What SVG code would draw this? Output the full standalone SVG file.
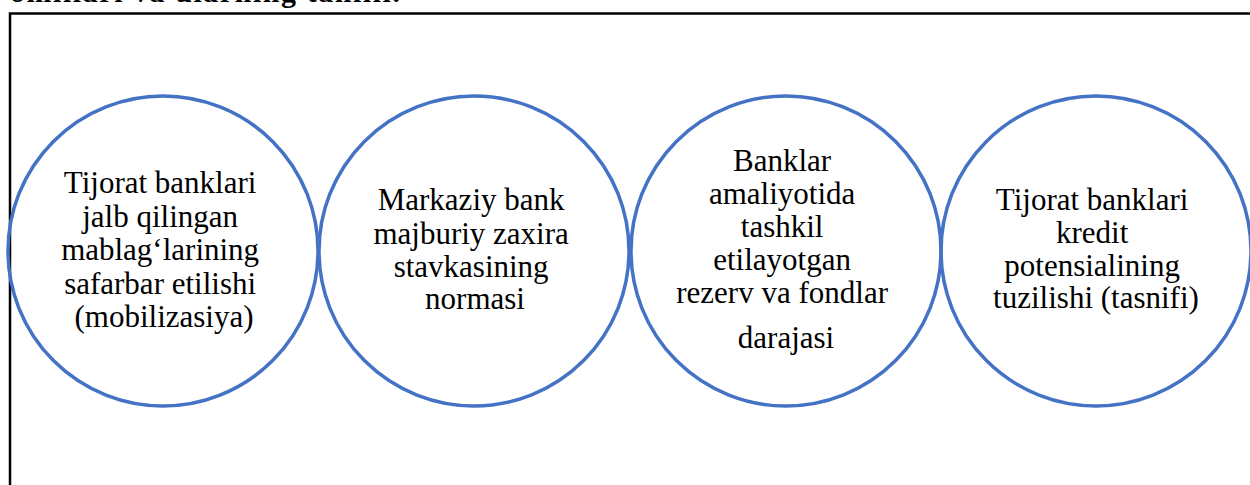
<svg xmlns="http://www.w3.org/2000/svg" width="1250" height="485" viewBox="0 0 1250 485">
  <style>
    .frame { fill: none; stroke: #000000; stroke-width: 2.5; }
    .ring { fill: none; stroke: #4472C4; stroke-width: 3.5; }
    .label { font-family: "Liberation Serif", "Times New Roman", serif; font-size: 31px; fill: #000000; text-anchor: middle; }
    .heading { font-family: "Liberation Serif", "Times New Roman", serif; font-size: 30px; font-weight: bold; fill: #000000; }
  </style>
  <rect width="1250" height="485" fill="#ffffff"/>

  <!-- heading line running off the top edge -->
  <text class="heading" x="10" y="2" textLength="390" lengthAdjust="spacing">omillari va ularning tahlili.</text>

  <!-- outer frame, open past the right and bottom edges -->
  <rect class="frame" x="10" y="13.5" width="1260" height="490"/>

  <g id="connectors"></g>

  <g id="node-mobilization">
    <circle class="ring" cx="163" cy="251" r="155"/>
    <text class="label">
      <tspan x="164" y="193">Tijorat banklari</tspan>
      <tspan x="164" y="227">jalb qilingan</tspan>
      <tspan x="164" y="260">mablag‘larining</tspan>
      <tspan x="164" y="294">safarbar etilishi</tspan>
      <tspan x="164" y="327">(mobilizasiya)</tspan>
    </text>
  </g>

  <g id="node-reserve-rate">
    <circle class="ring" cx="474" cy="251" r="155"/>
    <text class="label">
      <tspan x="475" y="210">Markaziy bank</tspan>
      <tspan x="475" y="244">majburiy zaxira</tspan>
      <tspan x="475" y="277">stavkasining</tspan>
      <tspan x="475" y="309">normasi</tspan>
    </text>
  </g>

  <g id="node-funds">
    <circle class="ring" cx="786" cy="251" r="155"/>
    <text class="label">
      <tspan x="786" y="171">Banklar</tspan>
      <tspan x="786" y="204">amaliyotida</tspan>
      <tspan x="786" y="237">tashkil</tspan>
      <tspan x="786" y="270">etilayotgan</tspan>
      <tspan x="786" y="303">rezerv va fondlar</tspan>
      <tspan x="786" y="348">darajasi</tspan>
    </text>
  </g>

  <g id="node-structure">
    <circle class="ring" cx="1096" cy="251" r="155"/>
    <text class="label">
      <tspan x="1096" y="210">Tijorat banklari</tspan>
      <tspan x="1096" y="243">kredit</tspan>
      <tspan x="1096" y="276">potensialining</tspan>
      <tspan x="1096" y="308">tuzilishi (tasnifi)</tspan>
    </text>
  </g>
</svg>
